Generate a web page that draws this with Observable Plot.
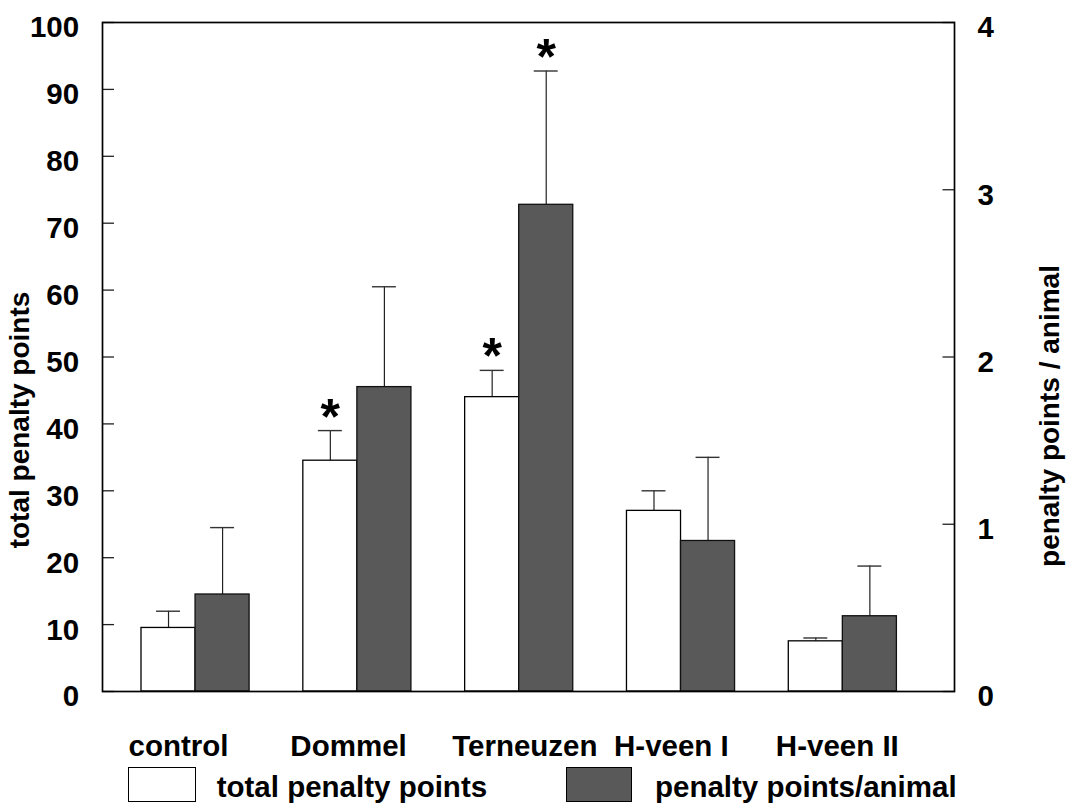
<!DOCTYPE html>
<html>
<head>
<meta charset="utf-8">
<script src="https://cdn.jsdelivr.net/npm/d3@7"></script>
<script src="https://cdn.jsdelivr.net/npm/@observablehq/plot@0.6"></script>
<style>
  body { margin: 0; background: #fff; font-family: "Liberation Sans", Arial, sans-serif; font-weight: bold; }
  #chart { width: 1070px; }
  .legend { position: relative; width: 1070px; height: 45px; font-size: 29.5px; line-height: 1; }
  .legend .sw { position: absolute; top: 4.7px; height: 35.6px; box-sizing: border-box; border: 1.3px solid #000; }
  .legend .lab { position: absolute; top: 9.7px; white-space: nowrap; }
</style>
</head>
<body>
<div id="chart"></div>
<div class="legend" id="legend"></div>
<script>
// Sampling sites
const groups = ["control", "Dommel", "Terneuzen", "H-veen I", "H-veen II"];

// Total penalty points (left axis) with standard errors
const totalPoints = [9.5, 34.5, 44, 27, 7.5];
const totalSE = [2.5, 4.5, 4, 3, 0.5];

// Penalty points per animal (right axis) with standard errors
const perAnimal = [0.58, 1.82, 2.91, 0.90, 0.45];
const perAnimalSE = [0.40, 0.60, 0.80, 0.50, 0.30];

// Significant differences from control
const totalSig = [false, true, true, false, false];
const perAnimalSig = [false, false, true, false, false];

// Axis extents and tick values
const leftMax = 100;
const rightMax = 4;
const leftTicks = [0, 10, 20, 30, 40, 50, 60, 70, 80, 90, 100];
const rightTicks = [0, 1, 2, 3, 4];

// Series labels and fills
const seriesNames = ["total penalty points", "penalty points/animal"];
const seriesFills = ["#ffffff", "#595959"];

const ratio = leftMax / rightMax;
const barW = 0.334;   // bar width in group units
const capW = 0.074;   // half-width of error caps

const rows = groups.map((g, i) => ({
  group: g, i,
  total: totalPoints[i], totalHi: totalPoints[i] + totalSE[i],
  animal: perAnimal[i] * ratio, animalHi: (perAnimal[i] + perAnimalSE[i]) * ratio,
  totalSig: totalSig[i], animalSig: perAnimalSig[i]
}));

const font = 29.5;

const chart = Plot.plot({
  width: 1070,
  height: 762,
  marginLeft: 102,
  marginRight: 116,
  marginTop: 22,
  marginBottom: 71,
  x: { type: "linear", domain: [-0.575, 4.69], axis: null },
  y: { domain: [0, leftMax], axis: null },
  style: { fontFamily: "'Liberation Sans', Arial, sans-serif", fontWeight: "bold", fontSize: font + "px", color: "#000", background: "#fff" },
  marks: [
    // error whiskers
    Plot.ruleX(rows, { x: d => d.i - barW / 2, y1: "total", y2: "totalHi", stroke: "#222", strokeWidth: 1.2 }),
    Plot.ruleY(rows, { y: "totalHi", x1: d => d.i - barW / 2 - capW, x2: d => d.i - barW / 2 + capW, stroke: "#333", strokeWidth: 1.4 }),
    Plot.ruleX(rows, { x: d => d.i + barW / 2, y1: "animal", y2: "animalHi", stroke: "#222", strokeWidth: 1.2 }),
    Plot.ruleY(rows, { y: "animalHi", x1: d => d.i + barW / 2 - capW, x2: d => d.i + barW / 2 + capW, stroke: "#333", strokeWidth: 1.4 }),
    // bars
    Plot.rectY(rows, { x1: d => d.i - barW, x2: d => d.i, y1: 0, y2: "total", fill: seriesFills[0], stroke: "#000", strokeWidth: 1.3 }),
    Plot.rectY(rows, { x1: d => d.i, x2: d => d.i + barW, y1: 0, y2: "animal", fill: seriesFills[1], stroke: "#111", strokeWidth: 1.3 }),
    // significance markers
    Plot.text(rows.filter(d => d.totalSig), { x: d => d.i - barW / 2, y: "totalHi", text: () => "*", fontSize: 50, lineAnchor: "bottom", dy: 3 }),
    Plot.text(rows.filter(d => d.animalSig), { x: d => d.i + barW / 2, y: "animalHi", text: () => "*", fontSize: 50, lineAnchor: "bottom", dy: 3 }),
    // left axis: inward ticks, then labels
    Plot.axisY({ anchor: "left", ticks: leftTicks, tickSize: -12, tickFormat: () => "", stroke: "#222", strokeWidth: 1.3 }),
    Plot.axisY({ anchor: "left", ticks: leftTicks, tickSize: 0, tickPadding: 23.3, dy: 5.5, fontSize: font }),
    // right axis (per animal)
    Plot.axisY({ anchor: "right", ticks: rightTicks.map(v => v * ratio), tickSize: -12.5, tickFormat: () => "", stroke: "#222", strokeWidth: 1.3 }),
    Plot.axisY({ anchor: "right", ticks: rightTicks.map(v => v * ratio), tickFormat: d => d / ratio, tickSize: 0, tickPadding: 23, dy: 5.5, fontSize: font }),
    // site labels
    Plot.axisX({ ticks: groups.map((_, i) => i), tickFormat: i => groups[i], tickSize: 0, tickPadding: 44, textAnchor: "start", dx: -67, fontSize: font }),
    Plot.frame({ stroke: "#000", strokeWidth: 1.7 }),
    // axis titles
    Plot.text(["total penalty points"], { frameAnchor: "left", textAnchor: "middle", rotate: -90, dx: -82, dy: 63, fontSize: 28, text: d => d }),
    Plot.text(["penalty points / animal"], { frameAnchor: "right", textAnchor: "middle", rotate: -90, dx: 96, dy: 59, fontSize: 28, text: d => d })
  ]
});
document.getElementById("chart").appendChild(chart);

// legend below the plot
const legend = d3.select("#legend");
const swLeft = [128.3, 566];
const swWidth = [67.7, 66.3];
const labLeft = [216.7, 655];
seriesNames.forEach((name, k) => {
  legend.append("div").attr("class", "sw")
    .style("left", swLeft[k] + "px").style("width", swWidth[k] + "px")
    .style("background", seriesFills[k]);
  legend.append("div").attr("class", "lab")
    .style("left", labLeft[k] + "px").text(name);
});
</script>
</body>
</html>
